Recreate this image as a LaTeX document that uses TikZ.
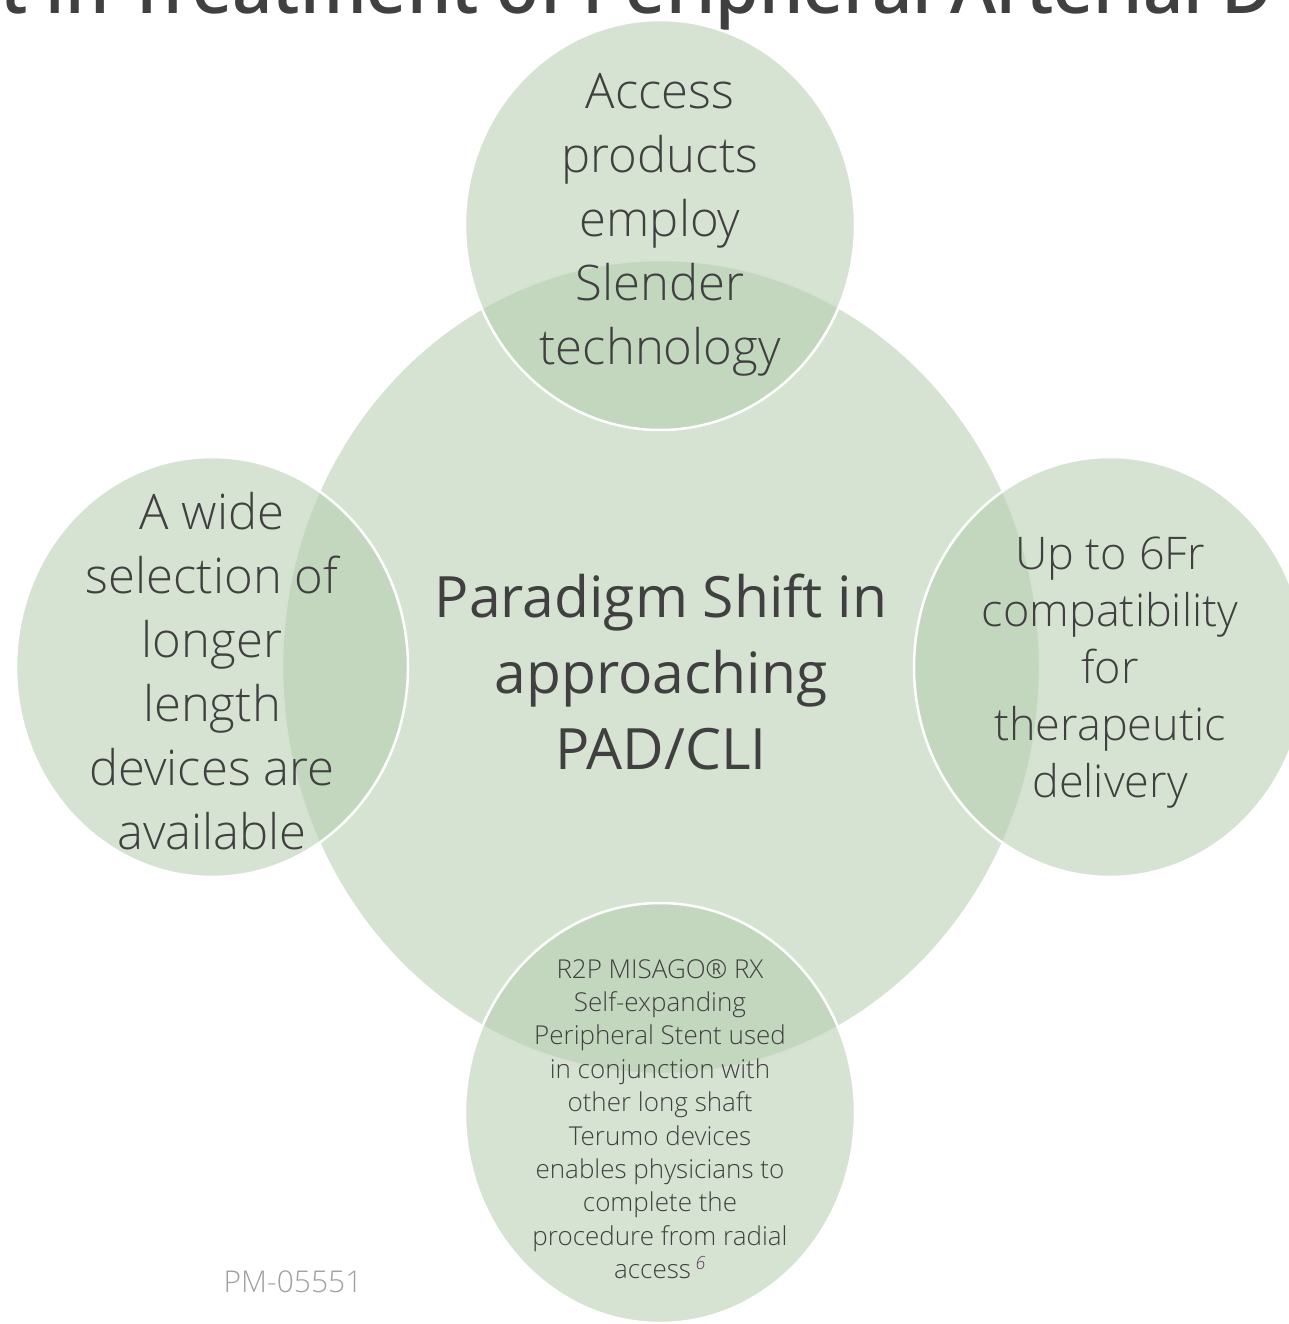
\documentclass[tikz,border=0pt]{standalone}
\usepackage{fontspec}
\setmainfont{Open Sans}[UprightFont={* Light},BoldFont={* Semibold}]
\newfontfamily\regfont{Open Sans}
\begin{document}
\begin{tikzpicture}[x=1pt,y=-1pt,
  bubble/.style={draw=white,line width=2.5pt,fill={rgb,255:red,179;green,203;blue,173},fill opacity=0.54},
  txt/.style={text={rgb,255:red,64;green,64;blue,64},align=center,inner sep=0pt}]
\useasboundingbox (0,0) rectangle (1289,1324);
% title fragment (cut at top)
\node[txt,anchor=base west,inner sep=0pt] (title) at (0,14)
  {\resizebox{1272pt}{!}{\bfseries t in Treatment of Peripheral Arterial D}};
% bubbles
\path[bubble] (661,667) ellipse [x radius=379pt, y radius=407pt];
\path[bubble] (660,225) ellipse [x radius=195pt, y radius=205pt];
\path[bubble] (212,667) ellipse [x radius=196pt, y radius=210pt];
\path[bubble] (1110,667) ellipse [x radius=196pt, y radius=210pt];
\path[bubble] (660,1113) ellipse [x radius=195pt, y radius=210pt];
% texts
\node[txt,font=\regfont\fontsize{57}{76}\selectfont] (main) at (661,672)
  {Paradigm Shift in\\approaching\\PAD/CLI};
\node[txt,font=\fontsize{49}{64}\selectfont] (top) at (660,225)
  {Access\\products\\employ\\Slender\\technology};
\node[txt,font=\fontsize{49}{64}\selectfont] (left) at (212,671)
  {A wide\\selection of\\longer\\length\\devices are\\available};
\node[txt,font=\fontsize{45}{57}\selectfont] (right) at (1110,673)
  {Up to 6Fr\\compatibility\\for\\therapeutic\\delivery};
\node[txt,font=\fontsize{26}{33.4}\selectfont] (bottom) at (660,1119)
  {R2P MISAGO® RX\\Self-expanding\\Peripheral Stent used\\in conjunction with\\other long shaft\\Terumo devices\\enables physicians to\\complete the\\procedure from radial\\access\,\textsuperscript{\color[rgb]{0.35,0.22,0.35}\textit{6}}};
\node[txt,text={rgb,255:red,160;green,160;blue,160},font=\fontsize{30}{34}\selectfont] (pm) at (293,1282) {PM-05551};
\end{tikzpicture}
\end{document}
